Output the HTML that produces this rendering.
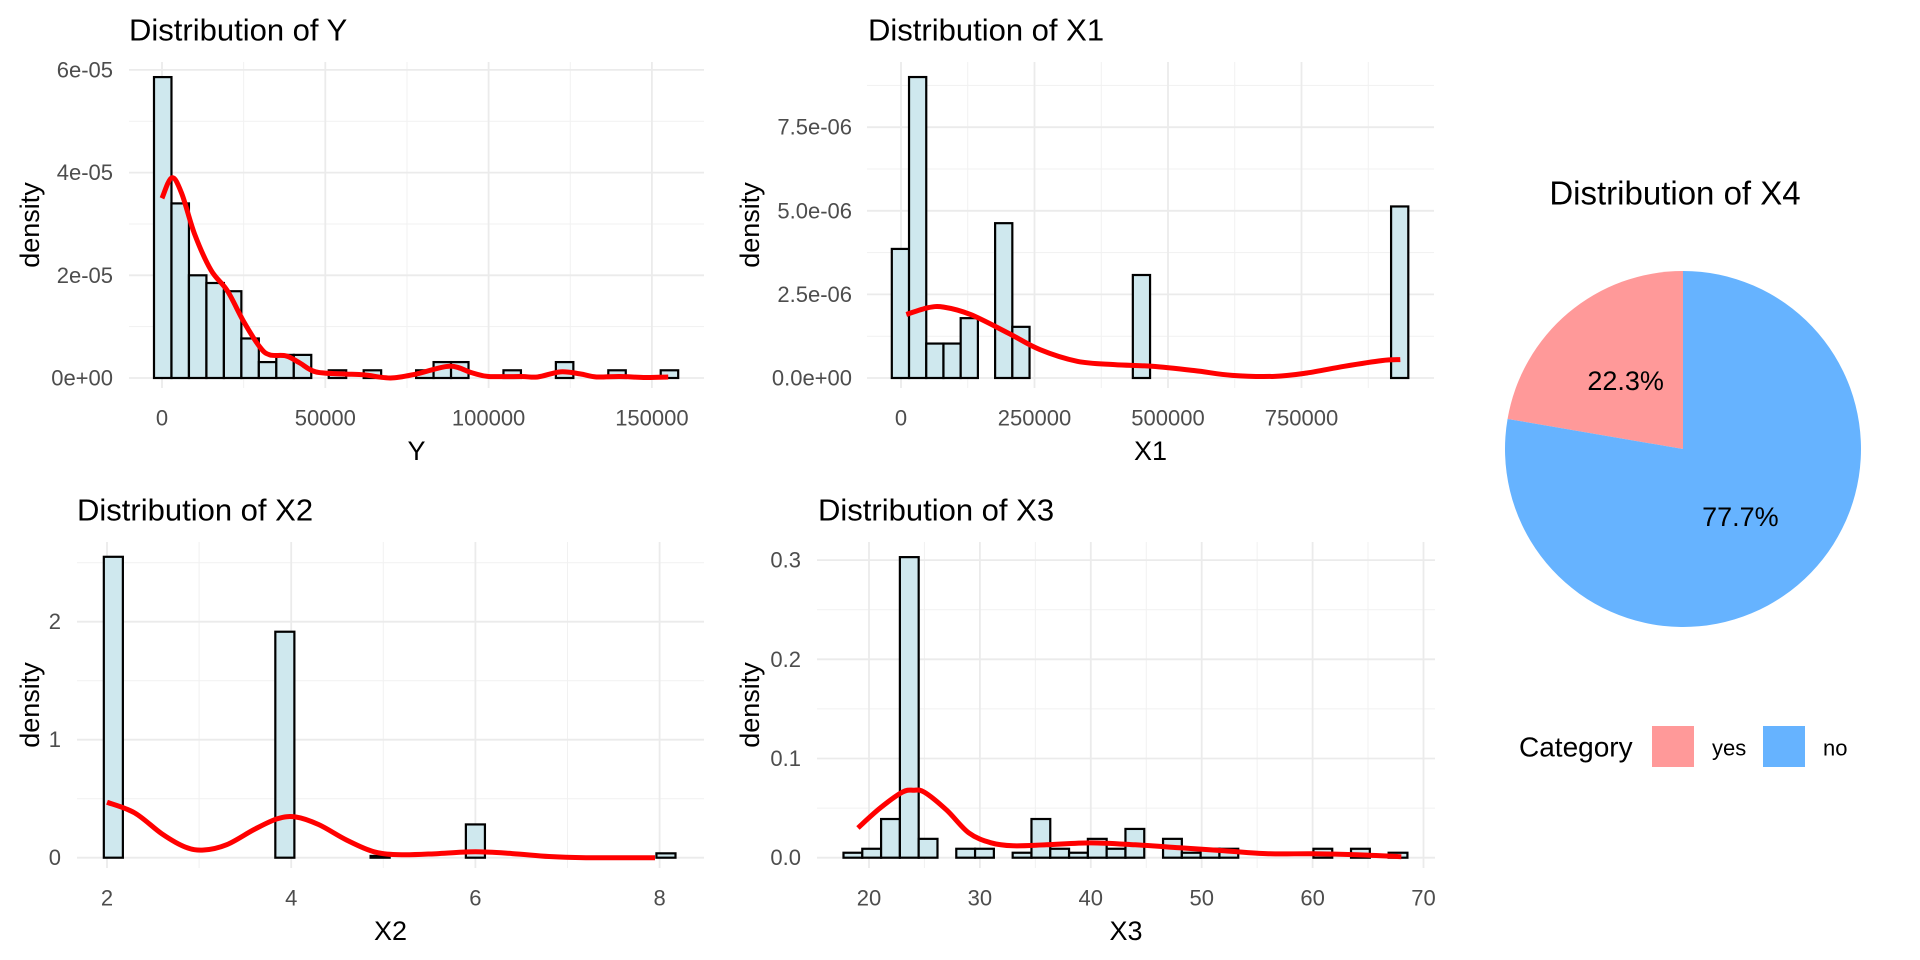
<!DOCTYPE html>
<html><head><meta charset="utf-8"><style>
html,body{margin:0;padding:0;background:#fff;}
svg{display:block;font-family:"Liberation Sans",Arial,sans-serif;}
</style></head><body>
<svg id="chart" width="1920" height="960" viewBox="0 0 1920 960" xmlns="http://www.w3.org/2000/svg"></svg>
<script>
// ---- Data: Y ----
const yBinStart = -2450, yBinWidth = 5350;
const yCounts = [5.86e-5,3.40e-5,2.0e-5,1.85e-5,1.69e-5,7.7e-6,3.1e-6,4.5e-6,4.5e-6,0,1.5e-6,0,1.5e-6,0,0,1.5e-6,3.1e-6,3.1e-6,0,0,1.5e-6,0,0,3.1e-6,0,0,1.5e-6,0,0,1.5e-6];
const yDensX = [0,3000,6000,10000,15000,20000,25000,30000,33000,38000,42000,47000,55000,62000,70000,78000,88000,95000,100000,110000,115000,122000,128000,133000,140000,148000,155000];
const yDensV = [3.5e-5,3.9e-5,3.6e-5,2.8e-5,2.1e-5,1.7e-5,1.1e-5,6e-6,4.5e-6,4.3e-6,3e-6,1.2e-6,8e-7,6e-7,0,8e-7,2.3e-6,1e-6,3e-7,3e-7,2e-7,1.2e-6,8e-7,2e-7,3e-7,1e-7,2e-7];
const yXTicks = [0,50000,100000,150000];
const yXTickLabels = ["0","50000","100000","150000"];
const yYTicks = [0,2e-5,4e-5,6e-5];
const yYTickLabels = ["0e+00","2e-05","4e-05","6e-05"];
// ---- Data: X1 ----
const x1BinStart = -17200, x1BinWidth = 32240;
const x1Counts = [3.86e-6,9.0e-6,1.03e-6,1.03e-6,1.79e-6,0,4.63e-6,1.53e-6,0,0,0,0,0,0,3.08e-6,0,0,0,0,0,0,0,0,0,0,0,0,0,0,5.13e-6];
const x1DensX = [10000,50000,80000,130000,200000,260000,330000,400000,470000,550000,620000,700000,760000,830000,900000,935000];
const x1DensV = [1.9e-6,2.1e-6,2.12e-6,1.9e-6,1.35e-6,0.85e-6,0.5e-6,0.4e-6,0.35e-6,0.22e-6,0.08e-6,0.05e-6,0.15e-6,0.35e-6,0.52e-6,0.55e-6];
const x1XTicks = [0,250000,500000,750000];
const x1XTickLabels = ["0","250000","500000","750000"];
const x1YTicks = [0,2.5e-6,5e-6,7.5e-6];
const x1YTickLabels = ["0.0e+00","2.5e-06","5.0e-06","7.5e-06"];
// ---- Data: X2 ----
const x2BinStart = 1.9655, x2BinWidth = 0.2069;
const x2Counts = [2.55,0,0,0,0,0,0,0,0,1.915,0,0,0,0,0.015,0,0,0,0,0.282,0,0,0,0,0,0,0,0,0,0.037];
const x2DensX = [2,2.3,2.6,2.85,3.05,3.3,3.6,3.85,4.05,4.3,4.6,4.9,5.2,5.6,6.0,6.4,6.8,7.2,7.6,7.95];
const x2DensV = [0.47,0.38,0.2,0.09,0.065,0.11,0.24,0.33,0.345,0.28,0.15,0.05,0.025,0.035,0.05,0.035,0.01,0.0,0.0,0.0];
const x2XTicks = [2,4,6,8];
const x2XTickLabels = ["2","4","6","8"];
const x2YTicks = [0,1,2];
const x2YTickLabels = ["0","1","2"];
// ---- Data: X3 ----
const x3BinStart = 17.70, x3BinWidth = 1.695;
const x3Counts = [0.005,0.009,0.039,0.303,0.019,0,0.009,0.009,0,0.005,0.039,0.009,0.005,0.019,0.009,0.029,0,0.019,0.005,0.009,0.009,0,0,0,0,0.009,0,0.009,0,0.005];
const x3DensX = [19,21,23,24,25,27,29,31,33,36,40,44,48,52,56,60,64,68];
const x3DensV = [0.03,0.05,0.066,0.068,0.066,0.048,0.025,0.015,0.012,0.013,0.015,0.013,0.010,0.007,0.004,0.004,0.003,0.001];
const x3XTicks = [20,30,40,50,60,70];
const x3XTickLabels = ["20","30","40","50","60","70"];
const x3YTicks = [0,0.1,0.2,0.3];
const x3YTickLabels = ["0.0","0.1","0.2","0.3"];
// ---- Data: X4 pie ----
const pieCategories = ["yes","no"];
const pieShares = [22.3,77.7];
const pieLabels = ["22.3%","77.7%"];

const NS="http://www.w3.org/2000/svg";
const svg=document.getElementById('chart');
function mk(tag,attrs,parent){const e=document.createElementNS(NS,tag);for(const k in attrs)e.setAttribute(k,attrs[k]);(parent||svg).appendChild(e);return e;}

function panel(o){
  const g=mk('g',{});
  
  
  const sx=v=>o.x0+(v-o.xv0)*o.xs, sy=v=>o.yBase-(v)*o.ys;
  o.xMinor.forEach(v=>{const l=mk('line',{x1:sx(v),x2:sx(v),y1:o.top,y2:o.bottom,stroke:'#f1f1f1','stroke-width':1},g);
    });
  o.yMinor.forEach(v=>{const l=mk('line',{x1:o.left,x2:o.right,y1:sy(v),y2:sy(v),stroke:'#f1f1f1','stroke-width':1},g);
    });
  o.xTicks.forEach((v,i)=>{const l=mk('line',{x1:sx(v),x2:sx(v),y1:o.top,y2:o.bottom,stroke:'#ebebeb','stroke-width':1.8},g);
    
    const t=mk('text',{x:sx(v),y:o.xTickY,'text-anchor':'middle','font-size':22,fill:'#4d4d4d','dominant-baseline':'central'},g);t.textContent=o.xTickLabels[i];
    });
  o.yTicks.forEach((v,i)=>{const l=mk('line',{x1:o.left,x2:o.right,y1:sy(v),y2:sy(v),stroke:'#ebebeb','stroke-width':1.8},g);
    
    const t=mk('text',{x:o.yLabelX,y:sy(v),'text-anchor':'end','font-size':22,fill:'#4d4d4d','dominant-baseline':'central'},g);t.textContent=o.yTickLabels[i];
    });
  o.counts.forEach((c,i)=>{
    const a=o.binStart+i*o.binWidth, b=a+o.binWidth;
    const r=mk('rect',{x:sx(a),y:sy(c),width:sx(b)-sx(a),height:sy(0)-sy(c),fill:'#cfe8ee',stroke:'#000','stroke-width':2.2},g);
    
  });
  const pts=o.dx.map((v,i)=>[sx(v),sy(o.dv[i])]);
  let d='M'+pts[0][0]+','+pts[0][1];
  for(let i=0;i<pts.length-1;i++){
    const p0=pts[Math.max(0,i-1)],p1=pts[i],p2=pts[i+1],p3=pts[Math.min(pts.length-1,i+2)];
    const c1=[p1[0]+(p2[0]-p0[0])/6,p1[1]+(p2[1]-p0[1])/6],c2=[p2[0]-(p3[0]-p1[0])/6,p2[1]-(p3[1]-p1[1])/6];
    d+=`C${c1[0]},${c1[1]} ${c2[0]},${c2[1]} ${p2[0]},${p2[1]}`;
  }
  const p=mk('path',{d:d,fill:'none',stroke:'#ff0000','stroke-width':5,'stroke-linejoin':'round'},g);
  
  const t=mk('text',{x:o.titleX,y:o.titleY,'font-size':31,fill:'#000','dominant-baseline':'central'},g);t.textContent=o.title;
  
  const xt=mk('text',{x:(o.left+o.right)/2,y:o.xTitleY,'font-size':27,fill:'#000','text-anchor':'middle','dominant-baseline':'central'},g);xt.textContent=o.xTitle;
  
  const cy=(o.top+o.bottom)/2;
  const yt=mk('text',{x:o.yTitleX,y:cy,'font-size':27,fill:'#000','text-anchor':'middle','dominant-baseline':'central',transform:`rotate(-90 ${o.yTitleX} ${cy})`},g);yt.textContent='density';
  
}

panel({name:'y',title:'Distribution of Y',xTitle:'Y',titleX:129,titleY:30,left:129,right:704,top:62,bottom:388,x0:162,xv0:0,xs:163.3/50000,yBase:378,ys:102.7/2e-5,
  xTicks:yXTicks,xTickLabels:yXTickLabels,yTicks:yYTicks,yTickLabels:yYTickLabels,xMinor:[25000,75000,125000],yMinor:[1e-5,3e-5,5e-5],
  counts:yCounts,binStart:yBinStart,binWidth:yBinWidth,dx:yDensX,dv:yDensV,yLabelX:113,xTickY:418,xTitleY:451,yTitleX:30});
panel({name:'x1',title:'Distribution of X1',xTitle:'X1',titleX:868,titleY:30,left:867,right:1434,top:62,bottom:388,x0:901,xv0:0,xs:133.5/250000,yBase:378,ys:83.6/2.5e-6,
  xTicks:x1XTicks,xTickLabels:x1XTickLabels,yTicks:x1YTicks,yTickLabels:x1YTickLabels,xMinor:[125000,375000,625000,875000],yMinor:[1.25e-6,3.75e-6,6.25e-6,8.75e-6],
  counts:x1Counts,binStart:x1BinStart,binWidth:x1BinWidth,dx:x1DensX,dv:x1DensV,yLabelX:852,xTickY:418,xTitleY:451,yTitleX:750});
panel({name:'x2',title:'Distribution of X2',xTitle:'X2',titleX:77,titleY:510,left:77,right:704,top:542,bottom:868,x0:107,xv0:2,xs:92.1,yBase:857.7,ys:118,
  xTicks:x2XTicks,xTickLabels:x2XTickLabels,yTicks:x2YTicks,yTickLabels:x2YTickLabels,xMinor:[3,5,7],yMinor:[0.5,1.5,2.5],
  counts:x2Counts,binStart:x2BinStart,binWidth:x2BinWidth,dx:x2DensX,dv:x2DensV,yLabelX:61,xTickY:898,xTitleY:931,yTitleX:30});
panel({name:'x3',title:'Distribution of X3',xTitle:'X3',titleX:818,titleY:510,left:817,right:1435,top:542,bottom:868,x0:869,xv0:20,xs:11.09,yBase:857.7,ys:992,
  xTicks:x3XTicks,xTickLabels:x3XTickLabels,yTicks:x3YTicks,yTickLabels:x3YTickLabels,xMinor:[25,35,45,55,65],yMinor:[0.05,0.15,0.25],
  counts:x3Counts,binStart:x3BinStart,binWidth:x3BinWidth,dx:x3DensX,dv:x3DensV,yLabelX:801,xTickY:898,xTitleY:931,yTitleX:750});

(function(){
  const cx=1683,cy=449,r=178,colors=['#ff9999','#66b3ff'];
  const g=mk('g',{});
  
  
  const total=pieShares.reduce((a,b)=>a+b,0);
  let start=0;
  pieShares.forEach((s,i)=>{
    const frac=s/total;
    const a0=-start*2*Math.PI, a1=-(start+frac)*2*Math.PI;
    const P=a=>[cx+r*Math.sin(a),cy-r*Math.cos(a)];
    const p0=P(a0),p1=P(a1);
    const large=frac>0.5?1:0;
    const path=mk('path',{d:`M${cx},${cy}L${p0[0]},${p0[1]}A${r},${r} 0 ${large} 0 ${p1[0]},${p1[1]}Z`,fill:colors[i]},g);
    
    
    const am=-(start+frac/2)*2*Math.PI, lr=r*0.5;
    const t=mk('text',{x:cx+lr*Math.sin(am),y:cy-lr*Math.cos(am),'font-size':27,'text-anchor':'middle','dominant-baseline':'central',fill:'#000'},g);
    t.textContent=pieLabels[i];
    
    
    start+=frac;
  });
  const tt=mk('text',{x:1675,y:193,'font-size':33,'text-anchor':'middle','dominant-baseline':'central',fill:'#000'},g);
  tt.textContent='Distribution of X4';
  
  
  const lt=mk('text',{x:1519,y:747,'font-size':28,'dominant-baseline':'central',fill:'#000'},g);
  lt.textContent='Category';
  
  
  const boxX=[1652,1763],txtX=[1712,1823];
  pieCategories.forEach((c,i)=>{
    const b=mk('rect',{x:boxX[i],y:726,width:42,height:41,fill:colors[i]},g);
    
    
    const t=mk('text',{x:txtX[i],y:748,'font-size':22,'dominant-baseline':'central',fill:'#000'},g);
    t.textContent=c;
    
    
  });
})();
</script>
</body></html>
